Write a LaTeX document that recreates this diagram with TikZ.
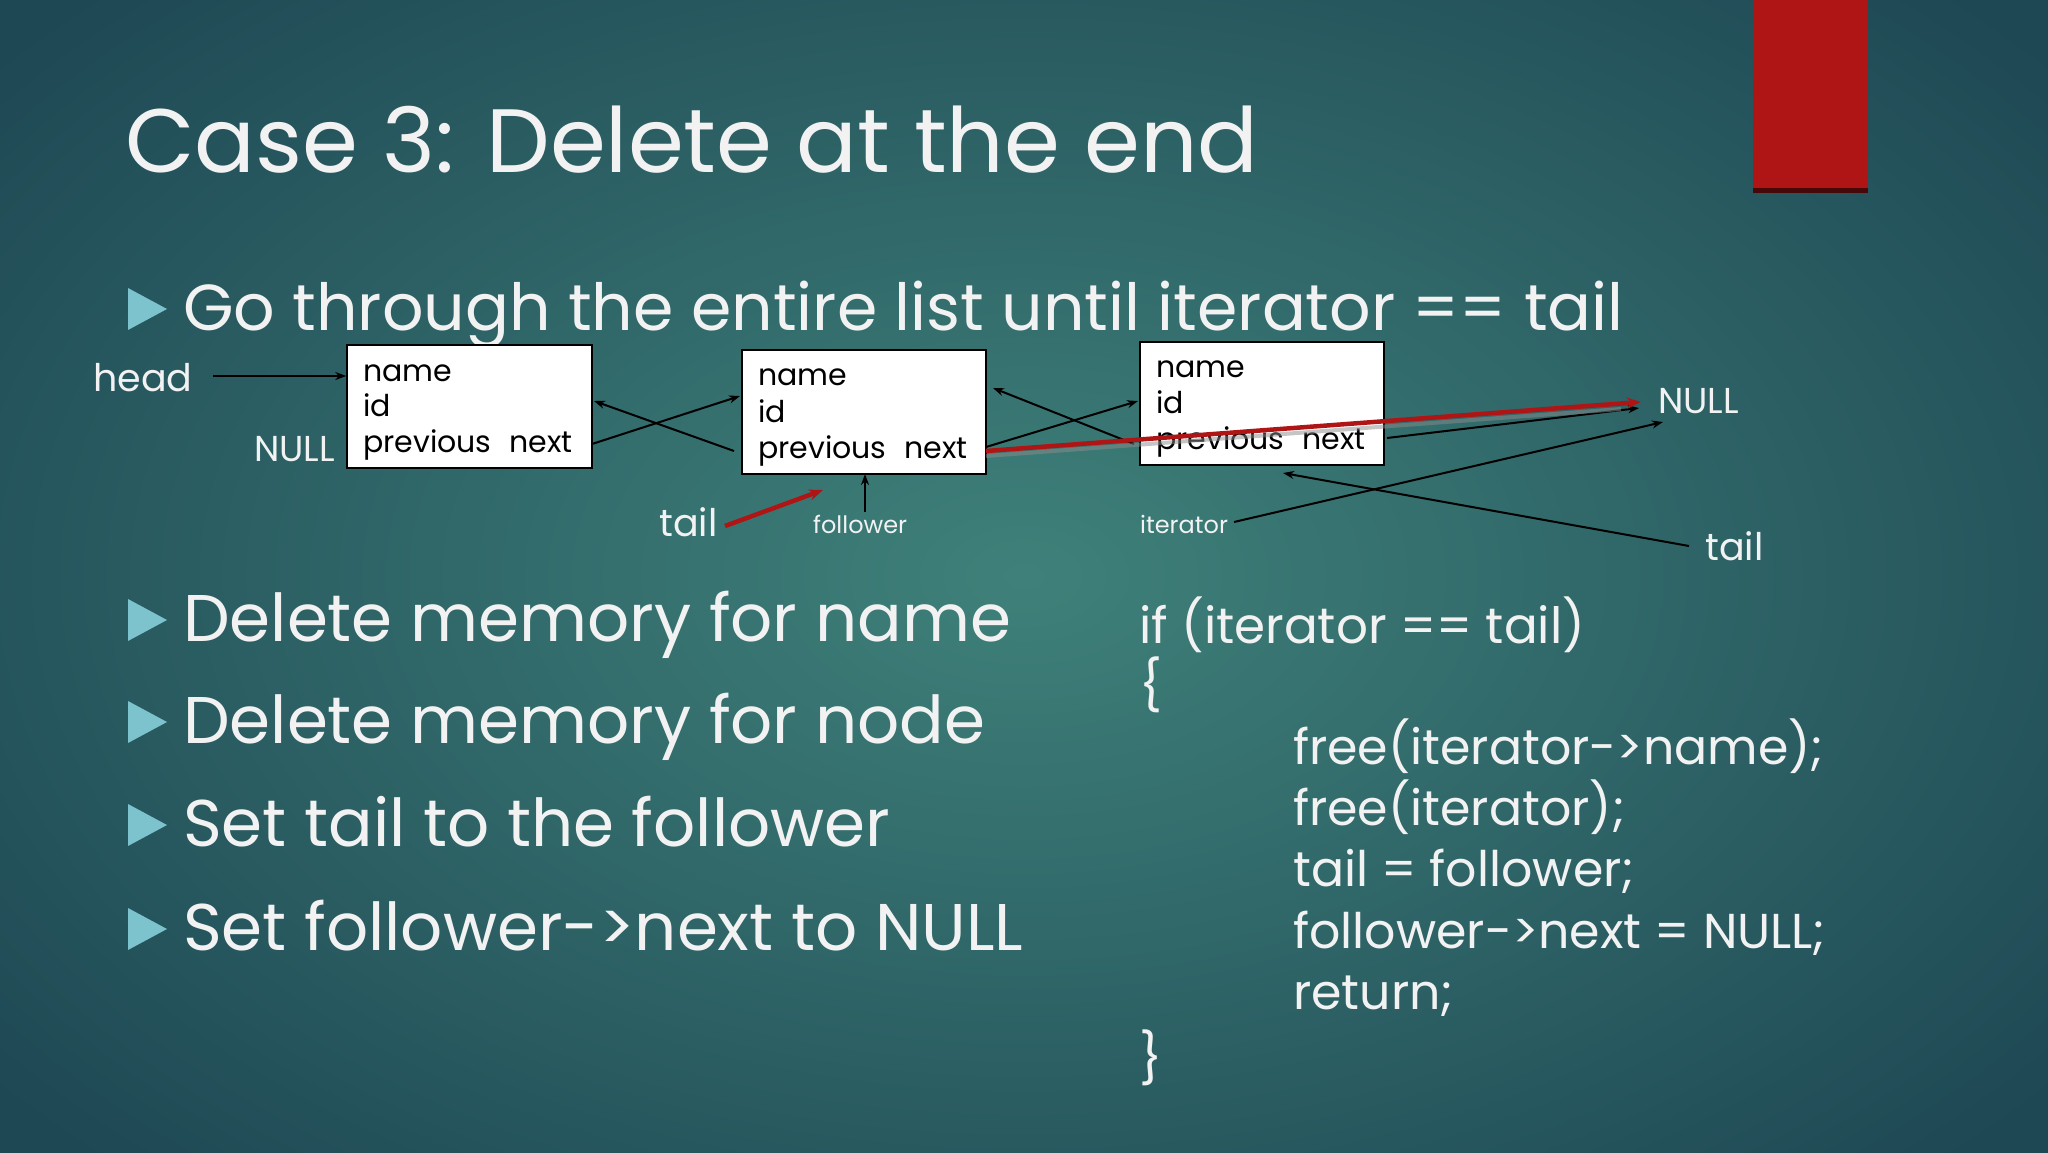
\documentclass[tikz,border=0pt]{standalone}
\usepackage{fontspec}
\setmainfont{Poppins}
\usetikzlibrary{arrows.meta,calc}
\definecolor{bgin}{HTML}{3F817A}
\definecolor{bgout}{HTML}{1E4854}
\definecolor{tri}{HTML}{7CC3CE}
\definecolor{redbar}{HTML}{B01515}
\definecolor{txt}{HTML}{F2F2F2}
\tikzset{
  fs/.style={font=\fontsize{#1}{#1}\selectfont},
  wt/.style={text=txt,inner sep=0pt,anchor=base west},
  box/.style={draw=black,fill=white,line width=1.5pt,inner sep=0pt},
  bt/.style={text=black,inner sep=0pt,anchor=base west,fs=30},
  ar/.style={-{Stealth[length=11pt,width=8pt]},line width=2pt,black},
  rar/.style={-{Stealth[length=14pt,width=11pt]},line width=4.5pt,redbar},
  bullet/.style={fill=tri,draw=none}
}
\begin{document}
\begin{tikzpicture}[x=1pt,y=-1pt]
\useasboundingbox (0,0) rectangle (2048,1152);
\shade[inner color=bgin,outer color=bgout] (-300,-250) rectangle (2348,1402);
% red bar
\fill[redbar] (1753,0) rectangle (1868,190);
\fill[black!60!redbar] (1753,188) rectangle (1868,193);
% title
\node[wt,fs=90] (title) at (125,172) {Case 3: Delete at the end};
% bullets
\foreach \y/\n in {309/b1,620/b2,722/b3,825/b4,929/b5}{
  \fill[bullet] (128,\y-21) -- (167,\y) -- (128,\y+21) -- cycle;
}
\node[wt,fs=65] (t1) at (183,330) {Go through the entire list until iterator == tail};
\node[wt,fs=66] (t2) at (183,641) {Delete memory for name};
\node[wt,fs=66] (t3) at (183,743) {Delete memory for node};
\node[wt,fs=66] (t4) at (183,846) {Set tail to the follower};
\node[wt,fs=66] (t5) at (183,950) {Set follower->next to NULL};
% boxes
\node[box,minimum width=245pt,minimum height=123pt] (box1) at (469.5,406.5) {};
\node[box,minimum width=244pt,minimum height=124pt] (box2) at (864,412) {};
\node[box,minimum width=244pt,minimum height=123pt] (box3) at (1262,403.5) {};
\node[bt] (n1) at (363,381) {name};
\node[bt] (i1) at (363,416) {id};
\node[bt] (p1) at (363,452) {previous\hspace{18pt}next};
\node[bt] (n2) at (758,385) {name};
\node[bt] (i2) at (758,422) {id};
\node[bt] (p2) at (758,458) {previous\hspace{18pt}next};
\node[bt] (n3) at (1156,377) {name};
\node[bt] (i3) at (1156,413) {id};
\node[bt] (p3) at (1156,449) {previous\hspace{18pt}next};
% labels
\node[wt,fs=38] (head) at (93,391) {head};
\node[wt,fs=36] (nullL) at (254,461) {NULL};
\node[wt,fs=36] (nullR) at (1658,413) {NULL};
\node[wt,fs=24] (iter) at (1140,533) {iterator};
\node[wt,fs=38] (tailR) at (1705,560) {tail};
\node[wt,fs=38] (tailL) at (659,536) {tail};
\node[wt,fs=24] (foll) at (813,533) {follower};
% coordinates
\coordinate (headE) at (213,376);
\coordinate (b1R) at (592,444);
\coordinate (b1Rt) at (594,401);
\coordinate (b2L) at (740,396);
\coordinate (b2Lb) at (734,451);
\coordinate (b2R) at (986,447);
\coordinate (b2Rt) at (993,388);
\coordinate (b3L) at (1138,401);
\coordinate (b3Lb) at (1134,444);
\coordinate (b3R) at (1387,438);
\coordinate (nullA) at (1639,408);
\coordinate (nullB) at (1663,422);
\coordinate (iterE) at (1234,522);
\coordinate (tailRE) at (1689,546);
\coordinate (b3B) at (1283,473);
\coordinate (tailLE) at (725,526);
\coordinate (b2B) at (823,490);
\coordinate (follE) at (865,512);
\coordinate (b2Bm) at (865,474);
\coordinate (b2next) at (986,451);
\coordinate (nullC) at (1641,402);
% connectors
\draw[ar] (headE) -- (box1.west |- headE);
\draw[ar] (b1R) -- (b2L);
\draw[ar] (b2Lb) -- (b1Rt);
\draw[ar] (b2R) -- (b3L);
\draw[ar] (b3Lb) -- (b2Rt);
\draw[ar] (b3R) -- (nullA);
\draw[ar] (iterE) -- (nullB);
\draw[ar] (tailRE) -- (b3B);
\draw[ar] (follE) -- (b2Bm);
\draw[rar] (tailLE) -- (b2B);
\draw[black!45,line width=4pt,opacity=0.5] ($(b2next)+(0,5)$) -- ($(nullC)+(-20,7)$);
\draw[rar] (b2next) -- (nullC);
% code
\node[wt,fs=50] (c0) at (1139,643) {if (iterator == tail)};
\node[wt,fs=50] (c1) at (1139,703) {\{};
\node[wt,fs=49] (c2) at (1293,764) {free(iterator->name);};
\node[wt,fs=49] (c3) at (1293,825) {free(iterator);};
\node[wt,fs=49] (c4) at (1293,886) {tail = follower;};
\node[wt,fs=49] (c5) at (1293,948) {follower->next = NULL;};
\node[wt,fs=49] (c6) at (1293,1009) {return;};
\node[wt,fs=50] (c7) at (1139,1076) {\}};
\end{tikzpicture}
\end{document}
